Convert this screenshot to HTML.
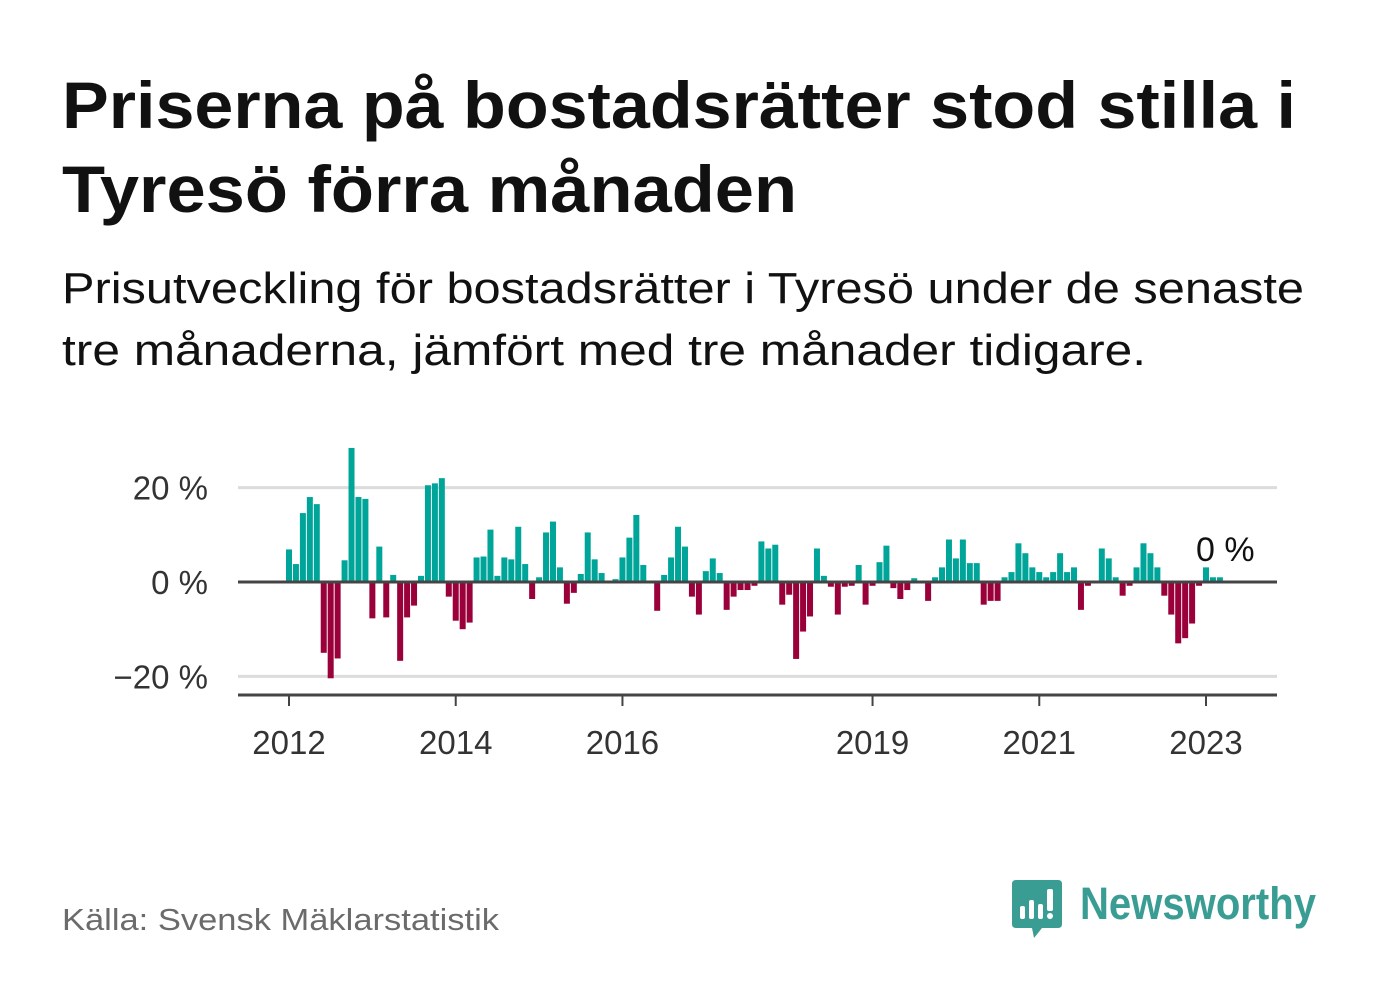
<!DOCTYPE html>
<html><head><meta charset="utf-8"><style>
html,body{margin:0;padding:0;background:#fff;}
svg{display:block;}
text{font-family:"Liberation Sans",sans-serif;}
</style></head><body>
<svg id="chart" width="1382" height="999" viewBox="0 0 1382 999" xmlns="http://www.w3.org/2000/svg">
<text x="62" y="128" font-size="66" font-weight="bold" fill="#111" textLength="1234" lengthAdjust="spacingAndGlyphs">Priserna på bostadsrätter stod stilla i</text>
<text x="62" y="212" font-size="66" font-weight="bold" fill="#111" textLength="735" lengthAdjust="spacingAndGlyphs">Tyresö förra månaden</text>
<text x="62" y="303" font-size="44" fill="#111" textLength="1242" lengthAdjust="spacingAndGlyphs">Prisutveckling för bostadsrätter i Tyresö under de senaste</text>
<text x="62" y="365" font-size="44" fill="#111" textLength="1084" lengthAdjust="spacingAndGlyphs">tre månaderna, jämfört med tre månader tidigare.</text>
<g id="grid"></g>
<g id="bars"></g>
<g id="axes"></g>
<text x="1196" y="561" font-size="34" fill="#111">0 %</text>
<text x="62" y="930" font-size="31" fill="#6b6b6b" textLength="437" lengthAdjust="spacingAndGlyphs">Källa: Svensk Mäklarstatistik</text>
<g>
<path d="M1016 880 H1058 Q1062 880 1062 884 V924 Q1062 928 1058 928 H1042 L1034 938 L1032 928 H1016 Q1012 928 1012 924 V884 Q1012 880 1016 880 Z" fill="#3a9d93"/>
<rect x="1020" y="906" width="5" height="13" rx="2" fill="#fff"/>
<rect x="1029" y="900" width="5" height="19" rx="2" fill="#fff"/>
<rect x="1038" y="904" width="5" height="15" rx="2" fill="#fff"/>
<rect x="1047" y="889" width="6" height="22" rx="2" fill="#fff"/>
<circle cx="1050" cy="916" r="3" fill="#fff"/>
<text x="1080" y="919" font-size="45" font-weight="bold" fill="#3a9d93" textLength="236" lengthAdjust="spacingAndGlyphs">Newsworthy</text>
</g>
</svg>
<script>
const values = [6.9,3.8,14.6,18.0,16.5,-15.0,-20.4,-16.2,4.6,28.4,18.0,17.6,-7.7,7.5,-7.5,1.5,-16.7,-7.5,-5.0,1.3,20.5,20.9,22.0,-3.1,-8.2,-10.0,-8.6,5.2,5.4,11.1,1.3,5.2,4.8,11.7,3.8,-3.6,
1.0,10.5,12.8,3.1,-4.6,-2.3,1.7,10.5,4.8,1.9,0,0.6,5.2,9.4,14.2,3.6,0,-6.1,1.5,5.2,11.7,7.5,-3.1,-6.9,2.3,5.0,1.9,-5.9,-3.1,-1.7,-1.7,-0.8,8.6,7.1,7.9,
-4.8,-2.7,-16.3,-10.5,-7.3,7.1,1.3,-1.0,-6.9,-1.0,-0.8,3.6,-4.8,-0.8,4.2,7.7,-1.3,-3.6,-1.7,0.8,0,-4.0,1.0,3.1,9.0,5.0,9.0,4.0,4.0,-4.8,-4.0,-4.0,1.0,2.1,8.2,
6.1,3.1,2.1,1.0,2.1,6.1,2.1,3.1,-5.9,-0.8,0,7.1,5.0,1.0,-2.9,-0.8,3.1,8.2,6.1,3.1,-2.9,-6.9,-13.0,-11.9,-8.8,-0.8,3.1,1.0,1.0];
const startYear = 2012;
const yTicks = [20,0,-20];
const yTickLabels = ["20 %","0 %","−20 %"];
const xTickYears = [2012,2014,2016,2019,2021,2023];

const NS="http://www.w3.org/2000/svg";
const x0=289, monthW=(1206-289)/132;
const xScale = i => x0 + i*monthW;
const yearX = y => xScale((y-startYear)*12);
const yScale = v => 582 - v*4.72;
const L=238, R=1277;
function mk(tag, attrs, parent){const e=document.createElementNS(NS,tag);for(const k in attrs)e.setAttribute(k,attrs[k]);parent.appendChild(e);return e;}
const grid=document.getElementById('grid'), bars=document.getElementById('bars'), axes=document.getElementById('axes');
yTicks.forEach((t,i)=>{
  if(t!==0){const l=mk('line',{x1:L,x2:R,y1:yScale(t),y2:yScale(t),stroke:'#dcdcdc','stroke-width':3},grid);
    
    }
  const tx=mk('text',{x:208,y:yScale(t)+12,'font-size':33,fill:'#333','text-anchor':'end'},axes);
  tx.textContent=yTickLabels[i];
  
  
});
values.forEach((v,i)=>{
  if(v===0)return;
  const cx=xScale(i), y=yScale(Math.max(v,0)), h=Math.abs(yScale(v)-yScale(0));
  const r=mk('rect',{x:cx-3,y:y,width:6,height:h,fill:v>0?'#00a59a':'#9a0039'},bars);
  
  
});
const z=mk('line',{x1:L,x2:R,y1:582,y2:582,stroke:'#444','stroke-width':3},axes);


const xa=mk('line',{x1:L,x2:R,y1:695,y2:695,stroke:'#444','stroke-width':3},axes);


xTickYears.forEach(yr=>{
  const x=yearX(yr);
  const t=mk('line',{x1:x,x2:x,y1:695,y2:706,stroke:'#444','stroke-width':2},axes);
  
  
  const tx=mk('text',{x:x,y:754,'font-size':33,fill:'#333','text-anchor':'middle'},axes);
  tx.textContent=yr;
  
  
});
</script>
</body></html>
